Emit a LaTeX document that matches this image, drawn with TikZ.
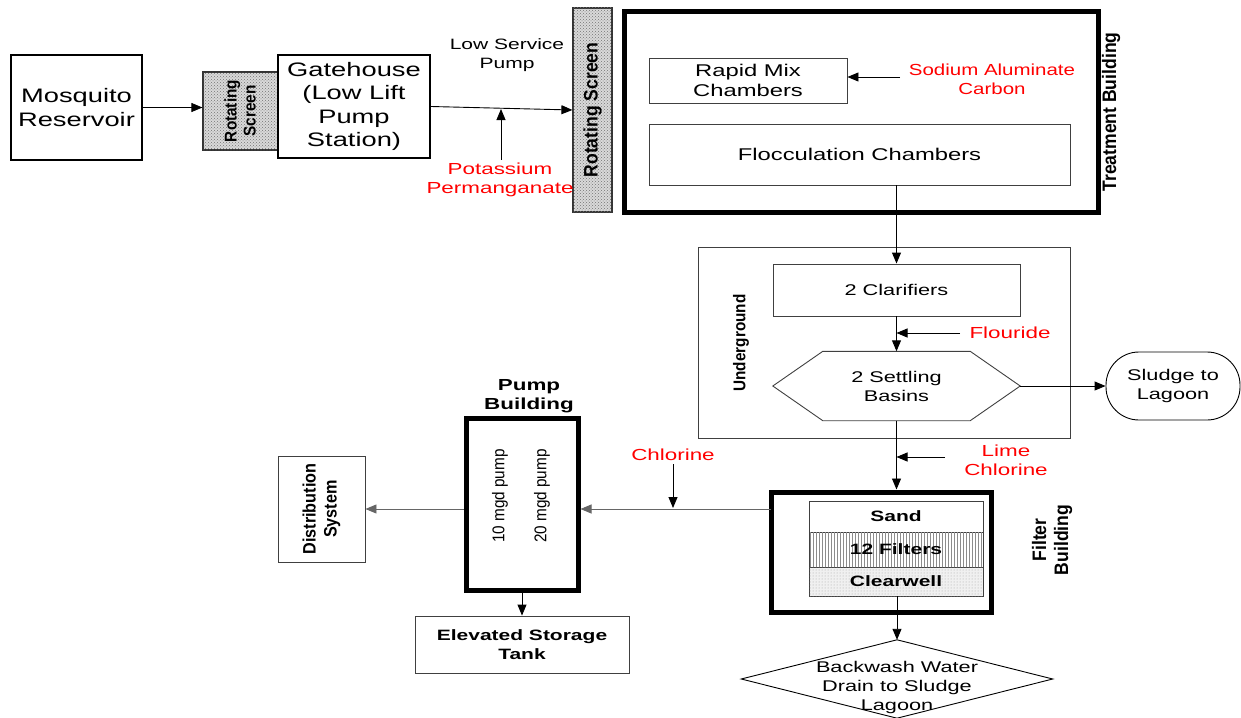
\documentclass[tikz,border=0pt]{standalone}
\usepackage{fontspec}
\setmainfont[FakeStretch=1.4]{Liberation Sans}
\newfontfamily\midwidefont[FakeStretch=1.28]{Liberation Sans}
\newfontfamily\narrowfont[FakeStretch=0.9]{Liberation Sans}
\usetikzlibrary{arrows.meta,patterns,calc}
\begin{document}
\begin{tikzpicture}[x=1pt,y=-1pt,
  arr/.style={-{Triangle[length=11pt,width=9pt]}, line width=0.9pt},
  thinbox/.style={draw=black!75, line width=0.9pt, align=center, inner sep=0pt},
  midbox/.style={draw=black, line width=2.2pt, align=center, inner sep=0pt},
  heavybox/.style={draw=black, line width=5pt, inner sep=0pt},
  screenbox/.style={draw=black!80, line width=1.2pt, fill=gray!30,
     postaction={pattern=crosshatch dots, pattern color=black!55}, inner sep=0pt},
  bigtxt/.style={font=\fontsize{19.5}{23.5}\selectfont, align=center},
  medtxt/.style={font=\fontsize{17}{20}\selectfont, align=center},
  smltxt/.style={font=\fontsize{15.5}{19}\selectfont, align=center},
  chem/.style={text=red, font=\fontsize{16}{19}\selectfont, align=center},
  narrowlbl/.style={font=\narrowfont\bfseries\fontsize{19.5}{22}\selectfont, align=center, rotate=90},
  boldtxt/.style={font=\bfseries\fontsize{15}{18.5}\selectfont, align=center}]
\useasboundingbox (0,0) rectangle (1241,717);

% ---- intake ----
\node[midbox, line width=1.6pt, minimum width=131, minimum height=105, bigtxt] (res) at (76.5,107.5) {Mosquito\\Reservoir};
\node[screenbox, minimum width=75, minimum height=78] (scr1) at (240.5,111) {};
\node[narrowlbl, font=\narrowfont\bfseries\fontsize{17}{19}\selectfont] at (240,111) {Rotating\\Screen};
\node[midbox, fill=white, minimum width=152, minimum height=103, bigtxt] (gate) at (354,106.5) {Gatehouse\\(Low Lift\\Pump\\Station)};
\draw[arr] (res.east) -- (scr1.west |- res.east);

\node[screenbox, minimum width=39, minimum height=204] (scr2) at (592.5,110) {};
\node[narrowlbl] at (592.5,110) {Rotating Screen};
\draw[arr] (gate.east) -- (scr2.west);
\node[smltxt, font=\fontsize{15}{18.5}\selectfont] (lsp) at (507,55) {Low Service\\Pump};
\node[chem] (kmn) at (500,180) {Potassium\\Permanganate};
\coordinate (kin) at (501,109);
\draw[arr] (kmn.north -| kin) -- (kin);

% ---- treatment building ----
\node[heavybox, minimum width=474, minimum height=200] (tb) at (861,112) {};
\node[narrowlbl] at (1111,112) {Treatment Building};
\node[thinbox, minimum width=198, minimum height=45, medtxt] (rmc) at (748,80.5) {Rapid Mix\\Chambers};
\node[chem, font=\midwidefont\fontsize{16}{19}\selectfont] (naal) at (992,79) {Sodium Aluminate\\Carbon};
\coordinate (naalin) at (900,77);
\draw[arr] (naalin) -- (rmc.east |- naalin);
\node[thinbox, minimum width=421, minimum height=61, medtxt] (floc) at (859.5,154.5) {Flocculation Chambers};

% ---- underground ----
\node[thinbox, minimum width=372, minimum height=191] (ug) at (884,342.5) {};
\node[narrowlbl, font=\narrowfont\bfseries\fontsize{17}{20}\selectfont] at (741,343) {Underground};
\node[thinbox, minimum width=247, minimum height=52, smltxt] (clar) at (896.5,290) {2 Clarifiers};
\draw[arr] (floc.south -| clar.north) -- (clar.north);

\node[minimum width=247, minimum height=69, smltxt] (sb) at (896.5,386) {2 Settling\\Basins};
\draw[draw=black!75, line width=0.9pt] (sb.west) -- ($(sb.north west)+(50,0)$) -- ($(sb.north east)+(-50,0)$)
  -- (sb.east) -- ($(sb.south east)+(-50,0)$) -- ($(sb.south west)+(50,0)$) -- cycle;
\draw[arr] (clar.south) -- (sb.north);
\node[chem, anchor=west] (flr) at (966,333) {Flouride};
\coordinate (flrout) at (960,333);
\draw[arr] (flrout) -- (clar.south |- flrout);

\node[draw=black, line width=0.9pt, rounded corners=33pt, minimum width=134, minimum height=68, smltxt] (sludge) at (1173,386) {Sludge to\\Lagoon};
\draw[arr] (sb.east) -- (sludge.west);

% ---- filter building ----
\node[heavybox, minimum width=220, minimum height=120] (fb) at (881,552) {};
\node[narrowlbl] at (1052,540) {Filter\\Building};
\node[thinbox, minimum width=174, minimum height=31, boldtxt] (sand) at (896,516.5) {Sand};
\node[thinbox, minimum width=174, minimum height=35, boldtxt,
   postaction={pattern=vertical lines, pattern color=black!45}] (filt) at (896,549.5) {};
\node[boldtxt] at (filt) {12 Filters};
\node[thinbox, minimum width=174, minimum height=29, boldtxt, fill=gray!12,
   postaction={pattern=dots, pattern color=black!35}] (clw) at (896,581.5) {};
\node[boldtxt] at (clw) {Clearwell};
\draw[arr] (sb.south) -- (fb.north -| sb.south);
\node[chem] (lime) at (1006,460) {Lime\\Chlorine};
\coordinate (limeout) at (945,457);
\draw[arr] (limeout) -- (sb.south |- limeout);

% backwash drain diamond, text sits a little low in it
\node[minimum width=311, minimum height=78] (bw) at (897,679) {};
\draw[line width=0.9pt] (bw.north) -- (bw.east) -- (bw.south) -- (bw.west) -- cycle;
\node[smltxt, text depth=0pt] (bwtxt) at (897,686) {Backwash Water\\Drain to Sludge\\Lagoon};
\draw[arr] (clw.south -| bw.north) -- (bw.north);

% ---- pump building and distribution ----
\node[heavybox, minimum width=112, minimum height=172] (pb) at (522,504) {};
\node[boldtxt, font=\bfseries\fontsize{16}{19.5}\selectfont] at (529,396) {Pump\\Building};
\node[rotate=90, font=\narrowfont\fontsize{17}{20}\selectfont] at (500,496) {10 mgd pump};
\node[rotate=90, font=\narrowfont\fontsize{17}{20}\selectfont] at (542,496) {20 mgd pump};
\coordinate (fbout) at (771,509);
\draw[arr, draw=black!60] (fbout) -- (pb.east |- fbout);
\node[chem] (cl) at (673,455) {Chlorine};
\coordinate (clin) at (673,508);
\draw[arr] (cl.south) -- (clin);

\node[thinbox, minimum width=87, minimum height=106] (dist) at (321.5,509) {};
\node[narrowlbl, font=\narrowfont\bfseries\fontsize{18}{21}\selectfont] at (321.5,509) {Distribution\\System};
\draw[arr, draw=black!60] (pb.west |- fbout) -- (dist.east |- fbout);

\node[thinbox, minimum width=214, minimum height=57, boldtxt] (tank) at (522,644.5) {Elevated Storage\\Tank};
\draw[arr] (pb.south) -- (tank.north);
\end{tikzpicture}
\end{document}
